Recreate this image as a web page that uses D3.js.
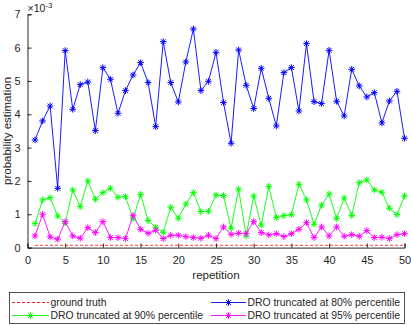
<!DOCTYPE html>
<html><head><meta charset="utf-8">
<script src="https://cdn.jsdelivr.net/npm/d3@7"></script>
<style>body{margin:0;background:#fff}svg{display:block}text{font-family:"Liberation Sans",Arial,sans-serif;fill:#262626}</style>
</head><body><div id="c"></div>
<script>
const repetitions = d3.range(1, 51);
const groundTruth = 0.07;
const dro80 = [3.23,3.80,4.25,1.78,5.91,4.15,4.89,4.97,3.51,5.40,
               5.05,4.03,4.71,5.18,5.55,4.95,3.63,6.18,4.95,4.37,
               5.57,6.56,4.71,4.99,5.86,4.35,3.13,5.93,4.87,4.17,
               5.38,4.48,3.65,5.25,5.40,4.10,6.12,4.38,4.32,5.92,
               4.39,3.95,5.35,4.85,4.52,4.65,3.74,4.40,4.69,3.28];
const dro90 = [0.72,1.43,1.50,0.95,0.73,1.73,1.23,2.00,1.45,1.65,
               1.78,1.51,1.53,0.86,1.60,0.81,0.61,0.46,1.21,0.88,
               1.31,1.65,1.08,1.09,1.58,1.56,0.58,1.75,0.35,1.55,
               0.67,1.84,0.90,0.96,0.99,1.90,1.43,0.70,1.27,1.61,
               0.87,1.49,0.96,1.95,2.03,1.73,1.66,1.18,0.99,1.55];
const dro95 = [0.35,1.00,0.32,0.25,0.78,0.35,0.28,0.60,0.45,0.78,
               0.30,0.30,0.27,0.97,0.55,0.43,0.52,0.27,0.37,0.37,
               0.33,0.30,0.28,0.37,0.27,0.62,0.40,0.43,0.42,0.78,
               0.45,0.38,0.42,0.33,0.42,0.55,0.75,0.30,0.62,0.35,
               0.62,0.34,0.39,0.34,0.51,0.30,0.31,0.27,0.39,0.42];
const xTicks = [0,5,10,15,20,25,30,35,40,45,50];
const yTicks = [0,1,2,3,4,5,6,7];
const legendLabels = ["ground truth","DRO truncated at 80% percentile","DRO truncated at 90% percentile","DRO truncated at 95% percentile"];

const W = 411, H = 325;
const svg = d3.select("#c").append("svg").attr("width", W).attr("height", H);
const x = d3.scaleLinear().domain([0, 50]).range([27.5, 404.5]);
const y = d3.scaleLinear().domain([0, 7]).range([247.6, 14.3]);

const axisCol = "#262626";
// axes
const gx = svg.append("g").attr("transform", `translate(0,${y(0)})`)
  .call(d3.axisBottom(x).tickValues(xTicks).tickSize(-4).tickPadding(8).tickFormat(d3.format("d")));
const gy = svg.append("g").attr("transform", `translate(${x(0)},0)`)
  .call(d3.axisLeft(y).tickValues(yTicks).tickSize(-4).tickPadding(7).tickFormat(d3.format("d")));
[gx, gy].forEach(g => {
  g.select(".domain").attr("stroke", axisCol).attr("stroke-width", 1);
  g.selectAll(".tick line").attr("stroke", axisCol);
  g.selectAll(".tick text").attr("fill", axisCol).style("font-size", "11px").style("font-family", '"Liberation Sans",Arial,sans-serif');
});
gx.selectAll(".tick text").attr("dy", "0.75em");

// exponent label
const ex = svg.append("text").attr("x", x(0)).attr("y", 12).style("font-size", "10.5px");
ex.append("tspan").text("×10");
ex.append("tspan").attr("dy", -4).style("font-size", "8px").text("-3");

// axis labels
svg.append("text").attr("x", (x(0)+x(50))/2).attr("y", 279).attr("text-anchor", "middle").style("font-size", "11.5px").text("repetition");
svg.append("text").attr("transform", `translate(11,${(y(0)+y(7))/2}) rotate(-90)`).attr("text-anchor", "middle").style("font-size", "11.5px").text("probability estimation");

const star = (r) => { const d = r*0.72; return `M${-r},0L${r},0M0,${-r}L0,${r}M${-d},${-d}L${d},${d}M${-d},${d}L${d},${-d}`; };

// ground truth
svg.append("path").datum(repetitions)
  .attr("d", d3.line().x(d => x(d)).y(() => y(groundTruth)))
  .attr("fill", "none").attr("stroke", "#ff0000").attr("stroke-width", 0.8).attr("stroke-dasharray", "3,2");

const series = [
  {vals: dro90, color: "#00ff00"},
  {vals: dro95, color: "#ff00ff"},
  {vals: dro80, color: "#0000ff"}
];
series.forEach(s => {
  svg.append("path").datum(s.vals)
    .attr("d", d3.line().x((d,i) => x(repetitions[i])).y(d => y(d)))
    .attr("fill", "none").attr("stroke", s.color).attr("stroke-width", 0.9);
  svg.append("g").selectAll("path").data(s.vals).join("path")
    .attr("transform", (d,i) => `translate(${x(repetitions[i])},${y(d)})`)
    .attr("d", star(3.3)).attr("stroke", s.color).attr("stroke-width", 1).attr("fill", "none");
});

// legend
const lg = svg.append("g");
lg.append("rect").attr("x", 9.5).attr("y", 292.5).attr("width", 395).attr("height", 31).attr("fill", "#fff").attr("stroke", axisCol).attr("stroke-width", 0.8);
const items = [
  {label: legendLabels[0], color: "#ff0000", dash: "3,2", marker: false, x0: 12, x1: 49, ty: 302.5},
  {label: legendLabels[1], color: "#0000ff", dash: null, marker: true, x0: 211, x1: 246, ty: 302.5},
  {label: legendLabels[2], color: "#00ff00", dash: null, marker: true, x0: 12, x1: 49, ty: 315.5},
  {label: legendLabels[3], color: "#ff00ff", dash: null, marker: true, x0: 211, x1: 246, ty: 315.5}
];
items.forEach(it => {
  lg.append("line").attr("x1", it.x0).attr("x2", it.x1).attr("y1", it.ty).attr("y2", it.ty)
    .attr("stroke", it.color).attr("stroke-width", 0.9).attr("stroke-dasharray", it.dash);
  if (it.marker) lg.append("path").attr("transform", `translate(${(it.x0+it.x1)/2},${it.ty})`).attr("d", star(3.3)).attr("stroke", it.color).attr("fill", "none");
  lg.append("text").attr("x", it.x1 + 1.5).attr("y", it.ty).attr("dy", "0.35em").style("font-size", "10.4px").text(it.label);
});
</script></body></html>
